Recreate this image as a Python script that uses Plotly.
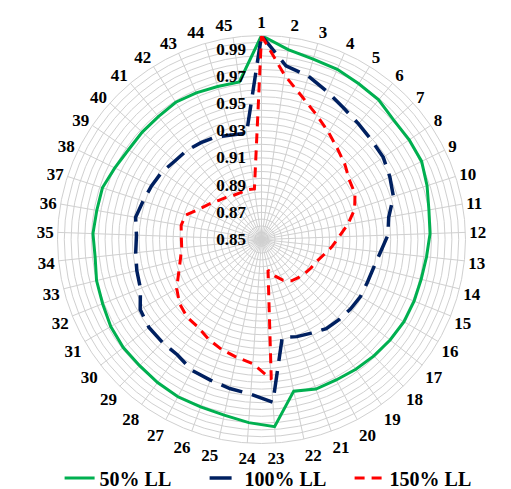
import plotly.graph_objects as go

categories = [str(i) for i in range(1, 46)]

ll50 = [1.0, 0.991, 0.988, 0.987, 0.985, 0.984, 0.981, 0.981, 0.981, 0.978,
        0.975, 0.974, 0.972, 0.971, 0.971, 0.971, 0.970, 0.969, 0.968, 0.967,
        0.967, 0.964, 0.988, 0.985, 0.982, 0.981, 0.981, 0.980, 0.979, 0.979,
        0.978, 0.976, 0.975, 0.973, 0.974, 0.973, 0.973, 0.970, 0.968, 0.968,
        0.968, 0.969, 0.968, 0.967, 0.967]

ll100 = [1.0, 0.979, 0.975, 0.969, 0.964, 0.961, 0.959, 0.958, 0.955, 0.952,
         0.945, 0.943, 0.938, 0.935, 0.934, 0.934, 0.933, 0.932, 0.931, 0.928,
         0.926, 0.9235, 0.970, 0.964, 0.962, 0.960, 0.959, 0.955, 0.955, 0.955,
         0.953, 0.946, 0.9445, 0.943, 0.942, 0.944, 0.9415, 0.940, 0.9385, 0.936,
         0.9355, 0.934, 0.9325, 0.930, 0.929]

ll150 = [1.0, 0.972, 0.959, 0.950, 0.943, 0.937, 0.9325, 0.928, 0.9265, 0.922,
         0.9145, 0.907, 0.902, 0.897, 0.8935, 0.892, 0.8905, 0.889, 0.8875, 0.884,
         0.8785, 0.873, 0.953, 0.9415, 0.9385, 0.936, 0.933, 0.9295, 0.929, 0.9265,
         0.922, 0.9157, 0.9115, 0.909, 0.909, 0.910, 0.9085, 0.901, 0.8965, 0.8928,
         0.8905, 0.8884, 0.8878, 0.888, 0.8875]

series_names = ["50% LL", "100% LL", "150% LL"]

radial_grid = [round(0.85 + 0.005 * i, 3) for i in range(31)]
label_every = 4

FONT = "Liberation Serif"
GRID = "#d0d0d0"

def closed(v):
    return v + [v[0]]

cats_closed = closed(categories)

fig = go.Figure()
fig.add_trace(go.Scatterpolar(
    r=closed(ll50), theta=cats_closed, mode="lines", name=series_names[0],
    line=dict(color="#00b050", width=3)))
fig.add_trace(go.Scatterpolar(
    r=closed(ll100), theta=cats_closed, mode="lines", name=series_names[1],
    line=dict(color="#002060", width=3.5, dash="22px,10px")))
fig.add_trace(go.Scatterpolar(
    r=closed(ll150), theta=cats_closed, mode="lines", name=series_names[2],
    line=dict(color="#ff0000", width=3, dash="10px,7px")))

ticktext = [f"{v:.2f}" if (i % label_every == 0 and i < 30) else "" for i, v in enumerate(radial_grid)]

# page has an 8px body margin (figure origin at page 8,8)
W, H = 503, 489
r = 204
cx, cy = 253.5, H - 231.5
dx = [(cx - r) / W, (cx + r) / W]
dy = [(cy - r) / H, (cy + r) / H]

fig.update_layout(
    width=W, height=H,
    margin=dict(l=0, r=0, t=0, b=0, autoexpand=False),
    paper_bgcolor="white", plot_bgcolor="white",
    font=dict(family=FONT, color="black", size=17, weight="bold"),
    polar=dict(
        domain=dict(x=dx, y=dy),
        bgcolor="white",
        radialaxis=dict(
            range=[0.85, 1.0], tickvals=radial_grid, ticktext=ticktext,
            angle=90, tickangle=90, side="counterclockwise",
            showline=False, ticks="outside", ticklen=9, tickcolor="rgba(0,0,0,0)",
            gridcolor=GRID, gridwidth=1,
            tickfont=dict(family=FONT, size=17, color="black", weight="bold"),
        ),
        angularaxis=dict(
            type="category", categoryarray=categories,
            direction="clockwise", rotation=90,
            showline=True, linecolor=GRID, linewidth=1,
            gridcolor=GRID, gridwidth=1,
            ticks="",
            tickfont=dict(family=FONT, size=17, color="black", weight="bold"),
        ),
    ),
    showlegend=True,
    legend=dict(
        orientation="h", x=0.535, xanchor="center", y=(H - 470) / H, yanchor="middle",
        font=dict(family=FONT, size=20, color="black", weight="bold"),
        itemwidth=30, entrywidth=100, bgcolor="rgba(0,0,0,0)",
    ),
)

fig.write_html("out.html")
